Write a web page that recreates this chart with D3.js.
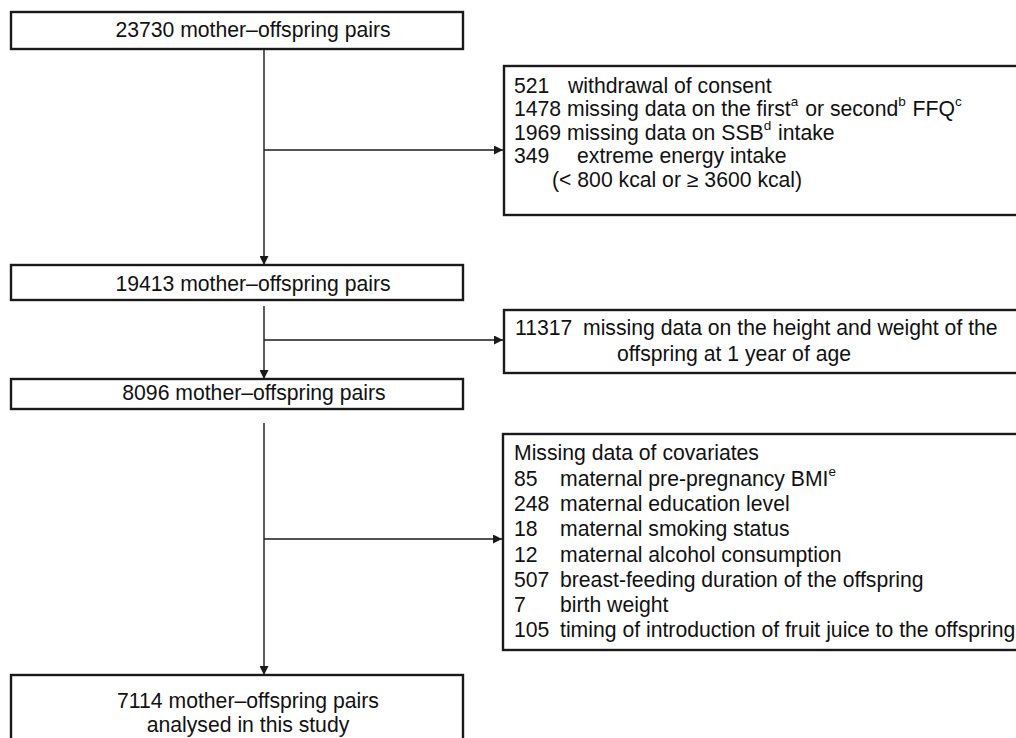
<!DOCTYPE html>
<html>
<head>
<meta charset="utf-8">
<script src="https://cdn.jsdelivr.net/npm/d3@7"></script>
<style>
  body { margin: 0; background: #fff; }
  svg { display: block; font-family: "Liberation Sans", Arial, sans-serif; }
</style>
</head>
<body>
<svg width="1016" height="738"></svg>
<script>
// data
const mainCounts = [23730, 19413, 8096, 7114];
const mainLabel = "mother\u2013offspring pairs";
const finalNote = "analysed in this study";

const excl1Counts = [521, 1478, 1969, 349];
const excl1Reasons = [
    "withdrawal of consent",
    "missing data on the first^a or second^b FFQ^c",
    "missing data on SSB^d intake",
    "extreme energy intake"
];
const excl1Extra = "(< 800 kcal or \u2265 3600 kcal)";

const excl2Counts = [11317];
const excl2Reasons = ["missing data on the height and weight of the", "offspring at 1 year of age"];

const covTitle = "Missing data of covariates";
const covCounts = [85, 248, 18, 12, 507, 7, 105];
const covNames = [
    "maternal pre-pregnancy BMI^e",
    "maternal education level",
    "maternal smoking status",
    "maternal alcohol consumption",
    "breast-feeding duration of the offspring",
    "birth weight",
    "timing of introduction of fruit juice to the offspring"
];

const svg = d3.select("svg");
const ink = "#1a1a1a";
const fs = 21.2;

svg.append("defs").append("marker")
    .attr("id", "arr")
    .attr("viewBox", "0 0 10 10")
    .attr("refX", 10).attr("refY", 5)
    .attr("markerWidth", 9).attr("markerHeight", 9)
    .attr("markerUnits", "userSpaceOnUse")
    .attr("orient", "auto")
    .append("path")
    .attr("d", "M0,0L10,5L0,10z")
    .attr("fill", ink);

function box(x, y, w, h) {
    svg.append("rect")
        .attr("x", x).attr("y", y)
        .attr("width", w).attr("height", h)
        .attr("fill", "none")
        .attr("stroke", ink)
        .attr("stroke-width", 2.4);
}

function label(x, y, str, anchor) {
    return svg.append("text")
        .attr("x", x).attr("y", y)
        .attr("text-anchor", anchor || "start")
        .attr("fill", "#111")
        .style("font-size", fs + "px")
        .text(str);
}

// left-aligned text with ^x superscripts, each piece its own text element
function richLabel(x, y, str) {
    let cur = x;
    str.split(/(\^[a-z])/).forEach(p => {
        if (!p) return;
        const sup = p[0] === "^";
        const t = svg.append("text")
            .attr("x", cur)
            .attr("y", sup ? y - 10 : y)
            .attr("fill", "#111")
            .style("font-size", sup ? "13.5px" : fs + "px")
            .style("white-space", "pre")
            .text(sup ? p.slice(1) : p);
        cur += t.node().getComputedTextLength() + (sup ? 1 : 0);
    });
}

function link(x1, y1, x2, y2) {
    svg.append("line")
        .attr("x1", x1).attr("y1", y1)
        .attr("x2", x2).attr("y2", y2)
        .attr("stroke", ink)
        .attr("stroke-width", 1.4)
        .attr("marker-end", "url(#arr)");
}

// main column
const mainX = 11, mainW = 452, cx = 264;
const mainBoxes = [
    {y: 12, h: 37, tx: 253, base: [37]},
    {y: 265, h: 35, tx: 253, base: [291]},
    {y: 379, h: 30, tx: 254, base: [400]},
    {y: 675, h: 80, tx: 248, base: [708, 732]}
];
mainBoxes.forEach((b, i) => {
    box(mainX, b.y, mainW, b.h);
    label(b.tx, b.base[0], mainCounts[i] + " " + mainLabel, "middle");
    if (b.base.length > 1) label(b.tx, b.base[1], finalNote, "middle");
});

// connectors
link(cx, 49, cx, 265);
link(cx, 150, 503, 150);
link(cx, 306, cx, 379);
link(cx, 340, 503, 340);
link(cx, 423, cx, 675);
link(cx, 539, 502, 539);

// exclusion box 1
const rX = 504, rW = 520, numX = 514;
box(rX, 66, rW, 149);
const col1 = [568, 567, 567, 577];
excl1Counts.forEach((n, i) => {
    const y = 92.5 + i * 23.5;
    label(numX, y, String(n));
    richLabel(col1[i], y, excl1Reasons[i]);
});
label(552, 92.5 + 4 * 23.5, excl1Extra);

// exclusion box 2
box(rX, 310, rW, 63);
label(515, 335, String(excl2Counts[0]));
label(583, 335, excl2Reasons[0]);
label(617, 361, excl2Reasons[1]);

// exclusion box 3
box(rX - 1, 434, rW, 216);
label(numX, 460, covTitle);
covCounts.forEach((n, i) => {
    const y = 486 + i * 25.2;
    label(numX, y, String(n));
    richLabel(560, y, covNames[i]);
});
</script>
</body>
</html>
